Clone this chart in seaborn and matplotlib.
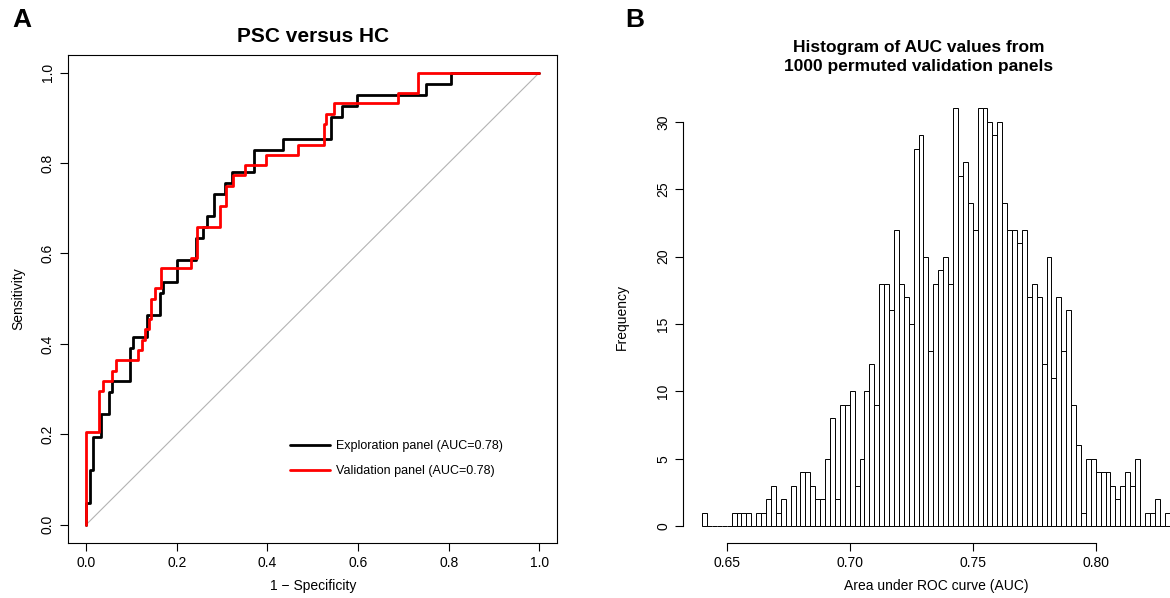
import numpy as np
import pandas as pd
import matplotlib
matplotlib.use("Agg")
import matplotlib.pyplot as plt
import seaborn as sns

# ---------------- data ----------------
# Panel A: ROC step vertices (1 - specificity, sensitivity)
exploration_fpr = [0.0, 0.0, 0.009, 0.016, 0.032, 0.050, 0.057, 0.097, 0.103, 0.135,
                   0.162, 0.169, 0.201, 0.243, 0.257, 0.266, 0.282, 0.306, 0.322, 0.371,
                   0.435, 0.540, 0.564, 0.597, 0.749, 0.805, 1.0]
exploration_tpr = [0.0, 0.049, 0.122, 0.195, 0.244, 0.293, 0.317, 0.390, 0.415, 0.463,
                   0.512, 0.537, 0.585, 0.634, 0.659, 0.683, 0.732, 0.756, 0.780, 0.829,
                   0.854, 0.902, 0.927, 0.951, 0.976, 1.0, 1.0]
validation_fpr = [0.0, 0.0, 0.029, 0.037, 0.057, 0.066, 0.115, 0.124, 0.131, 0.138,
                  0.144, 0.153, 0.166, 0.231, 0.244, 0.296, 0.309, 0.324, 0.351, 0.396,
                  0.468, 0.525, 0.530, 0.546, 0.689, 0.733, 1.0]
validation_tpr = [0.0, 0.205, 0.295, 0.318, 0.341, 0.364, 0.386, 0.409, 0.432, 0.455,
                  0.500, 0.523, 0.568, 0.591, 0.659, 0.705, 0.750, 0.773, 0.795, 0.818,
                  0.841, 0.886, 0.909, 0.932, 0.955, 1.0, 1.0]
chance_line = [0.0, 1.0]
exploration_label = "Exploration panel (AUC=0.78)"
validation_label = "Validation panel (AUC=0.78)"
roc_ticks = [0.0, 0.2, 0.4, 0.6, 0.8, 1.0]
roc_ticklabels = ["0.0", "0.2", "0.4", "0.6", "0.8", "1.0"]

# Panel B: histogram of permuted AUCs (bin width 0.002 from 0.640 to 0.830)
hist_edges = [round(v, 3) for v in np.linspace(0.640, 0.830, 96)]
hist_counts = [1, 0, 0, 0, 0, 0, 1, 1, 1, 1,
               0, 1, 1, 2, 3, 1, 2, 0, 3, 0,
               4, 4, 3, 2, 2, 5, 8, 2, 9, 9,
               10, 3, 5, 10, 12, 9, 18, 18, 16, 22,
               18, 17, 15, 28, 29, 20, 13, 18, 19, 20,
               18, 31, 26, 27, 24, 22, 31, 31, 30, 29,
               30, 24, 22, 22, 21, 22, 17, 18, 17, 12,
               20, 11, 17, 13, 16, 9, 6, 1, 5, 5,
               4, 4, 4, 3, 2, 3, 4, 3, 5, 0,
               1, 1, 2, 0, 1]
hist_xticks = [0.65, 0.70, 0.75, 0.80]
hist_xticklabels = ["0.65", "0.70", "0.75", "0.80"]
hist_yticks = [0, 5, 10, 15, 20, 25, 30]

# ---------------- style ----------------
sns.set_style("ticks")
plt.rcParams['font.family'] = ['Liberation Sans', 'DejaVu Sans']
plt.rcParams['axes.edgecolor'] = 'black'
plt.rcParams['xtick.color'] = 'black'
plt.rcParams['ytick.color'] = 'black'
plt.rcParams['text.color'] = 'black'
plt.rcParams['axes.labelcolor'] = 'black'

W, H = 1170, 598
fig = plt.figure(figsize=(W / 100, H / 100), dpi=100)


def px_axes(l, t, r, b):
    return fig.add_axes([l / W, 1 - b / H, (r - l) / W, (b - t) / H])


ax1 = px_axes(68, 54.6, 557.4, 542.8)
ax2 = px_axes(683.4, 91.7, 1188.2, 542.7)

# ---------------- Panel A ----------------
ax1.plot(chance_line, chance_line, color='#b3b3b3', lw=0.8, zorder=1)
sns.lineplot(x=exploration_fpr, y=exploration_tpr, color='black', lw=2,
             estimator=None, sort=False, drawstyle='steps-post',
             label=exploration_label, ax=ax1, zorder=2)
sns.lineplot(x=validation_fpr, y=validation_tpr, color='#ff0000', lw=2,
             estimator=None, sort=False, drawstyle='steps-post',
             label=validation_label, ax=ax1, zorder=3)
ax1.set_xlim(-0.04, 1.04)
ax1.set_ylim(-0.04, 1.04)
ax1.set_xticks(roc_ticks, roc_ticklabels)
ax1.set_yticks(roc_ticks, roc_ticklabels)
for s in ax1.spines.values():
    s.set_visible(True)
    s.set_linewidth(0.8)
ax1.tick_params(length=5.5, width=0.8, labelsize=10, pad=4, direction='out')
ax1.tick_params(axis='y', labelrotation=90)
for lbl in ax1.get_yticklabels():
    lbl.set_va('center')
ax1.set_xlabel("1 \u2212 Specificity", fontsize=10)
ax1.set_ylabel("Sensitivity", fontsize=10)
ax1.xaxis.set_label_coords(0.5, -0.074)
ax1.yaxis.set_label_coords(-0.088, 0.5)
ax1.set_title("PSC versus HC", fontsize=15, fontweight='bold', pad=9)
handles, labels = ax1.get_legend_handles_labels()
ax1.legend(handles, labels, loc='center left', bbox_to_anchor=(0.454, 0.1727),
           frameon=False, fontsize=9, handlelength=3.2, handletextpad=0.5,
           labelspacing=1.05, borderpad=0, borderaxespad=0)

# ---------------- Panel B ----------------
centers = [(a + b) / 2 for a, b in zip(hist_edges[:-1], hist_edges[1:])]
hist_df = pd.DataFrame({"auc": centers, "count": hist_counts})
sns.histplot(data=hist_df, x="auc", weights="count", bins=hist_edges, color='white',
             edgecolor='black', linewidth=0.7, alpha=1, ax=ax2)
ax2.set_xlim(0.6324, 0.8376)
ax2.set_ylim(-1.24, 32.24)
ax2.set_xticks(hist_xticks, hist_xticklabels)
ax2.set_yticks(hist_yticks, [str(v) for v in hist_yticks])
sns.despine(ax=ax2)
ax2.spines['left'].set_bounds(hist_yticks[0], hist_yticks[-1])
ax2.spines['bottom'].set_bounds(hist_xticks[0], hist_xticks[-1])
for s in ax2.spines.values():
    s.set_linewidth(0.8)
ax2.tick_params(length=5.5, width=0.8, labelsize=10, pad=4, direction='out')
ax2.tick_params(axis='y', labelrotation=90)
for lbl in ax2.get_yticklabels():
    lbl.set_va('center')
ax2.set_xlabel("Area under ROC curve (AUC)", fontsize=10)
ax2.set_ylabel("Frequency", fontsize=10)
ax2.xaxis.set_label_coords(0.5, -0.080)
ax2.yaxis.set_label_coords(-0.108, 0.5)
ax2.set_title("Histogram of AUC values from\n1000 permuted validation panels",
              fontsize=12.5, fontweight='bold', x=0.4667, pad=15, linespacing=1.3)

# panel letters
fig.text(22 / W, 1 - 20 / H, "A", fontsize=19, fontweight='bold', ha='center', va='center')
fig.text(635 / W, 1 - 20 / H, "B", fontsize=19, fontweight='bold', ha='center', va='center')

fig.savefig("out.png", dpi=100)
